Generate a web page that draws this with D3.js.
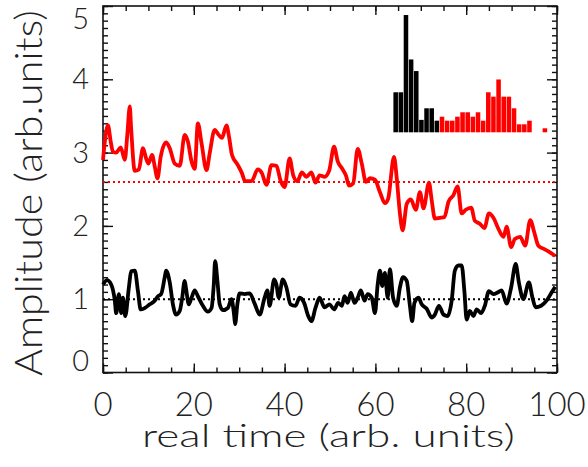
<!DOCTYPE html>
<html>
<head>
<meta charset="utf-8">
<script src="https://cdn.jsdelivr.net/npm/d3@7"></script>
<style>
  body { margin: 0; background: #fff; }
  text { font-family: "Lato", "DejaVu Sans", sans-serif; font-weight: 300; fill: #222; }
</style>
</head>
<body>
<div id="chart"></div>
<script>
const width = 588;
const height = 467;

// red trace (upper)
const redT = [0,0.5,1.1,1.7,2.2,2.9,3.9,4.8,5.35,5.9,6.2,7.0,7.9,8.8,9.5,10.0,10.8,11.4,12.0,12.7,13.9,14.7,15.8,16.9,18.0,18.7,19.5,20.2,20.9,21.7,22.8,23.5,24.6,25.5,26.2,27.2,27.8,28.4,29.7,30.6,31.3,32.7,34.1,35.0,36.0,37.1,38.2,39.1,40.0,41.1,41.9,42.8,43.8,44.8,45.9,46.8,47.7,48.8,49.8,50.9,51.7,52.7,53.5,54.2,55.1,56.1,57.0,57.9,58.8,59.9,61.0,62.1,62.8,64.1,64.7,65.4,66.0,66.9,67.8,68.9,69.8,70.6,71.8,72.4,73.1,74.2,75.2,76.1,77.2,78.1,79.0,79.9,81.1,81.9,83.0,84.0,85.0,86.0,87.1,88.2,88.9,89.9,90.7,91.9,93.0,94.1,95.0,95.9,97.0,98.2,99.6];
const redV = [2.9,3.2,3.37,3.15,3.01,3.0,3.07,2.9,3.24,3.63,3.33,2.75,2.77,3.06,2.92,2.85,2.97,2.81,2.65,2.94,3.14,3.06,2.85,2.82,3.24,3.15,2.88,2.78,3.40,3.13,2.76,2.99,3.31,3.24,3.2,3.37,3.2,2.97,2.83,2.72,2.61,2.61,2.77,2.72,2.56,2.83,2.82,2.62,2.53,2.92,2.69,2.61,2.73,2.67,2.73,2.59,2.69,2.67,2.75,3.08,2.88,2.78,2.69,2.55,2.58,3.05,2.85,2.6,2.65,2.63,2.46,2.31,2.37,2.94,2.65,2.17,1.94,2.30,2.36,2.22,2.46,2.24,2.59,2.35,2.10,2.11,2.12,2.33,2.42,2.54,2.17,2.22,2.25,2.07,2.03,1.97,2.17,2.11,1.96,1.85,1.99,1.71,1.82,1.85,1.73,2.08,1.91,1.73,1.69,1.65,1.59];

// black trace (lower)
const blackT = [0,0.9,1.8,2.6,2.9,3.5,4.0,4.4,4.9,5.7,6.2,7.0,7.7,8.3,9.2,10.3,11.4,12.1,12.8,13.6,13.9,14.7,15.4,16.1,16.9,17.4,18.0,18.3,18.9,19.5,20.2,20.9,22.0,23.1,23.9,24.4,24.7,25.2,25.7,26.4,27.5,28.3,28.9,29.1,29.6,30.1,31.2,32.3,33.4,34.5,35.6,36.2,36.7,37.7,38.2,38.7,39.6,40.4,41.3,42.4,43.3,44.3,45.2,45.9,46.8,47.7,48.8,49.9,50.9,51.8,52.6,53.2,53.9,54.6,55.4,56.1,56.8,57.6,58.3,59.2,59.9,60.5,61.0,61.5,62.1,62.7,63.2,63.9,64.7,65.4,66.1,66.9,67.6,68.1,68.6,69.5,70.2,71.3,72.4,73.1,74.0,75.0,75.9,76.8,77.5,78.3,79.0,79.6,80.1,80.8,81.6,82.3,83.3,84.1,85.0,86.0,86.9,87.8,88.9,89.9,90.9,91.6,92.6,93.8,94.6,95.3,96.5,97.7,98.8,99.6];
const blackV = [1.20,1.26,1.20,0.98,0.81,1.07,0.81,1.02,0.77,1.16,1.38,1.39,1.11,0.86,0.88,0.93,0.98,1.04,1.07,1.30,1.39,1.23,0.93,0.79,0.84,1.0,1.25,1.14,0.93,1.02,1.12,1.04,0.91,0.83,0.88,1.20,1.52,1.25,0.93,0.85,0.88,1.0,0.77,0.66,0.93,1.08,1.07,1.08,0.94,0.79,1.02,1.12,0.91,1.27,1.20,1.02,1.27,1.16,0.93,0.91,1.02,0.95,0.77,0.70,0.88,1.02,0.89,0.93,0.86,0.95,0.91,1.04,0.95,1.09,0.95,1.02,1.12,0.98,1.07,1.02,0.81,1.20,1.39,1.18,1.36,1.02,1.41,1.02,0.91,1.16,1.30,1.25,0.91,0.70,0.95,1.02,0.93,0.87,0.75,0.79,0.91,0.79,0.77,0.98,1.39,1.46,1.46,1.11,0.72,0.84,0.77,0.86,0.81,0.91,1.11,1.07,1.09,1.12,0.94,1.16,1.48,1.23,1.0,1.23,1.02,0.89,0.91,0.98,1.09,1.17];

// reference (mean) levels
const redMean = 2.6;
const blackMean = 1.0;

// inset histogram, 30 bins, first 9 from the black trace
const histCounts = [10,10,29.3,18.2,15.3,3.1,6,6,2.9, 3.9,2.9,2.9,3.9,5,5,3.9,5,2.9,10,8.9,13.2,8.9,8.9,6,2,2,2.9,0,0,1];
const histBlackBins = 9;

const xTicks = [0,20,40,60,80,100];
const yTicks = [0,1,2,3,4,5];

const svg = d3.select("#chart").append("svg")
   .attr("width", width)
   .attr("height", height);

const plot = { left: 103, right: 557, top: 6, bottom: 372.5 };

const x = d3.scaleLinear().domain([0, 100]).range([plot.left, plot.right]);
const y = d3.scaleLinear().domain([0, 5]).range([plot.bottom, plot.top]);

// ticks on all four sides, pointing inwards
const minorX = d3.range(0, 101, 5);
const minorY = d3.range(0, 5.001, 0.1);

function ticks(axisFn, scale, vals, size, tx, ty) {
   svg.append("g")
      .attr("transform", `translate(${tx},${ty})`)
      .call(axisFn(scale).tickValues(vals).tickSize(-size).tickFormat(""))
      .call(g => g.select(".domain").remove())
      .selectAll("line").attr("stroke", "#111").attr("stroke-width", 1.4);
}
ticks(d3.axisBottom, x, minorX, 5, 0, plot.bottom);
ticks(d3.axisBottom, x, xTicks, 9, 0, plot.bottom);
ticks(d3.axisTop, x, minorX, 5, 0, plot.top);
ticks(d3.axisTop, x, xTicks, 9, 0, plot.top);
ticks(d3.axisLeft, y, minorY, 5, plot.left, 0);
ticks(d3.axisLeft, y, yTicks, 10, plot.left, 0);
ticks(d3.axisRight, y, minorY, 5, plot.right, 0);
ticks(d3.axisRight, y, yTicks, 10, plot.right, 0);

svg.append("rect")
   .attr("x", plot.left).attr("y", plot.top)
   .attr("width", plot.right - plot.left).attr("height", plot.bottom - plot.top)
   .attr("fill", "none").attr("stroke", "#111").attr("stroke-width", 1.6);

// tick labels
svg.selectAll("text.xlab")
   .data(xTicks).enter().append("text")
   .attr("class", "xlab")
   .attr("x", d => x(d))
   .attr("y", 416)
   .attr("text-anchor", "middle")
   .style("font-size", "33px")
   .text(d => d);

svg.selectAll("text.ylab")
   .data(yTicks).enter().append("text")
   .attr("class", "ylab")
   .attr("x", 89)
   .attr("y", d => Math.min(Math.max(y(d), 19), 361) + 10)
   .attr("text-anchor", "end")
   .style("font-size", "29px")
   .text(d => d);

// axis titles
svg.append("text")
   .attr("x", 142).attr("y", 447)
   .attr("textLength", 373).attr("lengthAdjust", "spacingAndGlyphs")
   .style("font-size", "32px")
   .text("real time (arb. units)");

svg.append("text")
   .attr("transform", "translate(42,376) rotate(-90)")
   .attr("textLength", 366).attr("lengthAdjust", "spacingAndGlyphs")
   .style("font-size", "38px")
   .text("Amplitude (arb.units)");

// mean levels
const dotted = (v, col) => svg.append("line")
   .attr("x1", x(0)).attr("x2", x(99.5))
   .attr("y1", y(v)).attr("y2", y(v))
   .attr("stroke", col).attr("stroke-width", 2)
   .attr("stroke-dasharray", "2,3");
dotted(redMean, "#ff0000");
dotted(blackMean, "#000");

// traces
const line = d3.line().x(d => x(d[0])).y(d => y(d[1])).curve(d3.curveMonotoneX);
svg.append("path")
   .datum(d3.zip(blackT, blackV))
   .attr("d", line)
   .attr("fill", "none").attr("stroke", "#000")
   .attr("stroke-width", 3.8).attr("stroke-linejoin", "round");
svg.append("path")
   .datum(d3.zip(redT, redV))
   .attr("d", line)
   .attr("fill", "none").attr("stroke", "#ff0000")
   .attr("stroke-width", 3.8).attr("stroke-linejoin", "round");

// inset histogram, placed in data coordinates
const hx = d3.scaleLinear().domain([0, histCounts.length]).range([x(63.9), x(97.9)]);
const hy = d3.scaleLinear().domain([0, 30]).range([y(3.277), y(4.915)]);
const binW = hx(1) - hx(0);

svg.selectAll("rect.hist")
   .data(histCounts).enter().append("rect")
   .attr("class", "hist")
   .attr("x", (d, i) => hx(i) + 0.3)
   .attr("width", binW - 0.6)
   .attr("y", d => hy(d))
   .attr("height", d => hy(0) - hy(d))
   .attr("fill", (d, i) => i < histBlackBins ? "#000" : "#ff0000");
</script>
</body>
</html>
